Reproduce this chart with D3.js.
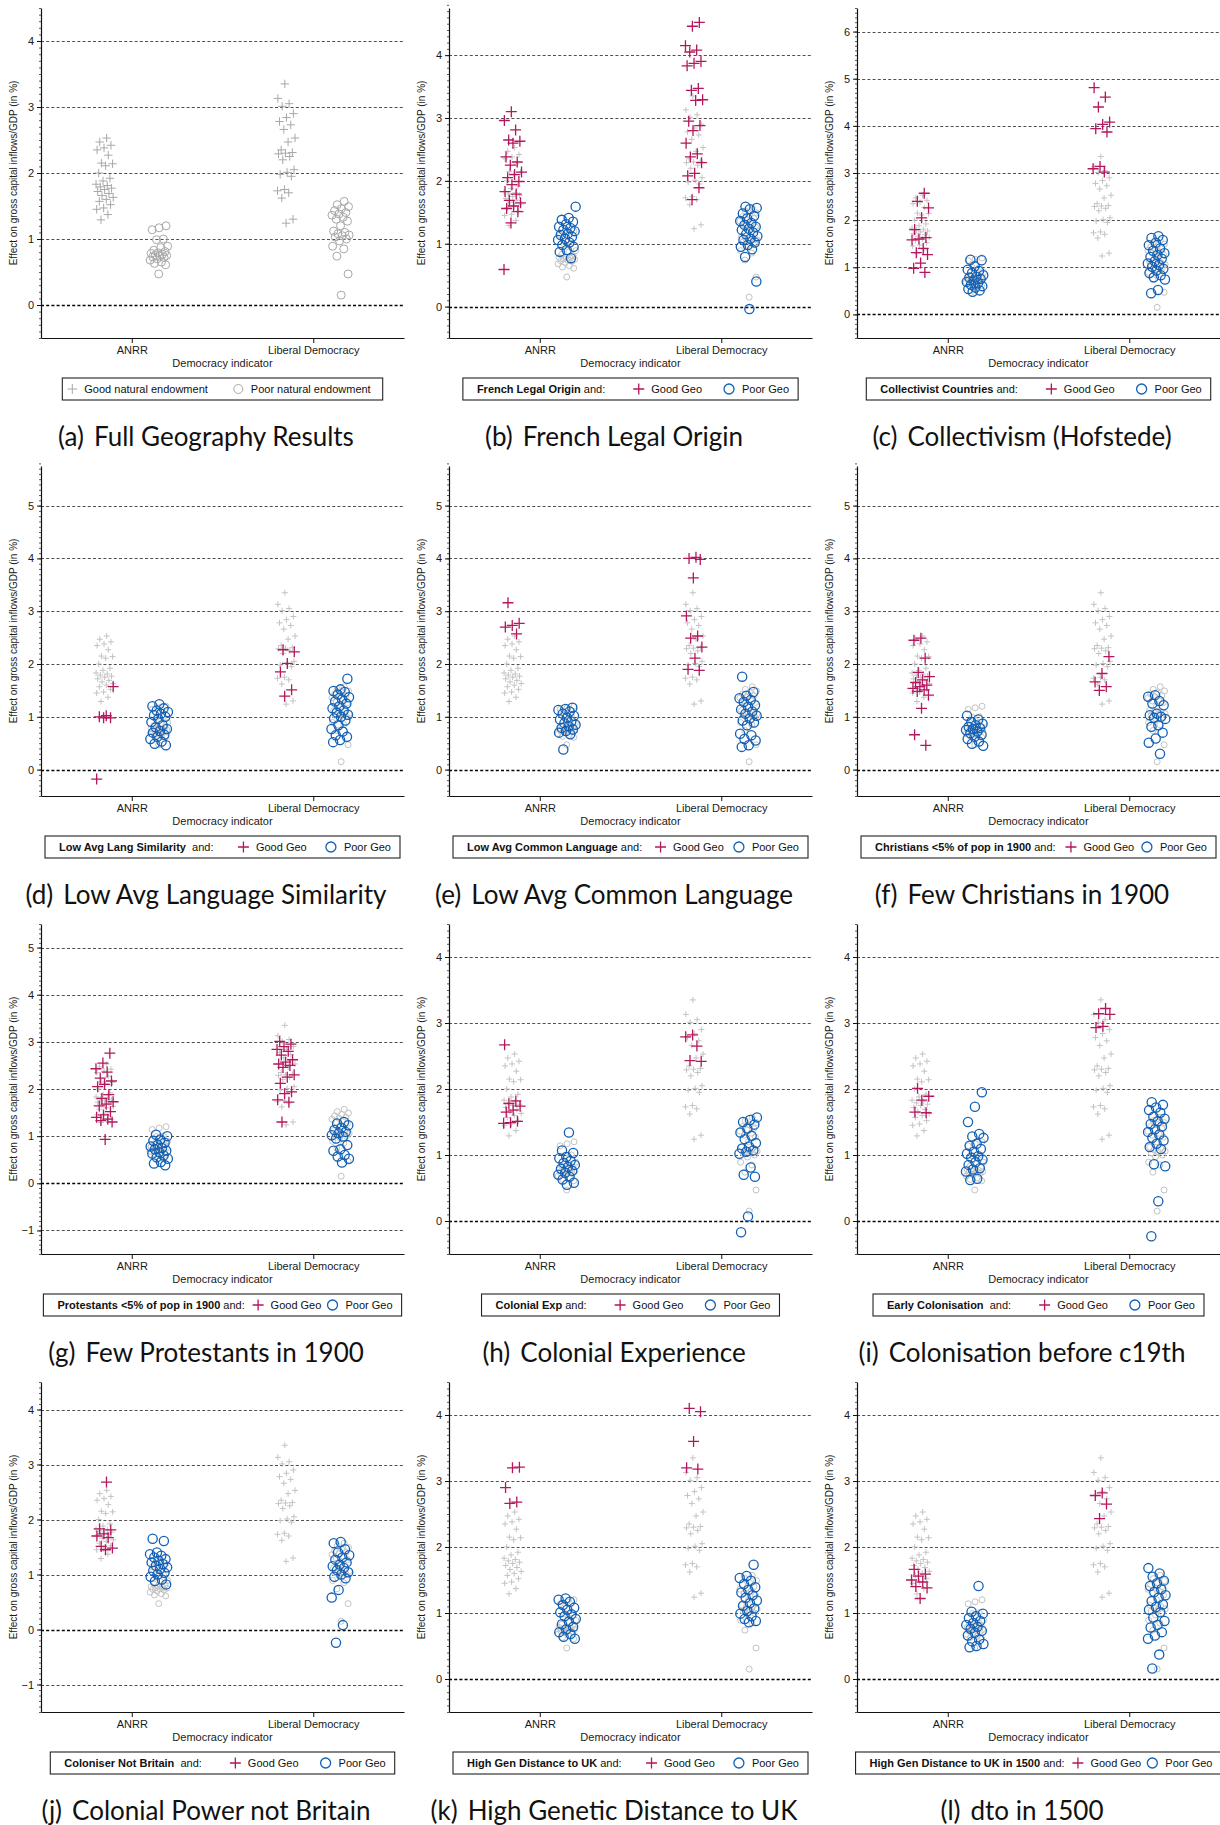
<!DOCTYPE html>
<html>
<head>
<meta charset="utf-8">
<script src="https://cdn.jsdelivr.net/npm/d3@7"></script>
<style>
  body { margin: 0; background: #fff; }
  svg text { font-family: "Liberation Sans", Arial, Helvetica, sans-serif; }
  .cap { font-family: Lato, "Noto Sans", sans-serif; }
</style>
</head>
<body>
<svg id="fig" width="1220" height="1825"></svg>
<script>
// ---- categories on the x axis ----
const categories = ["ANRR", "Liberal Democracy"];

// ---- full-sample estimates: [ANRR, Liberal Democracy] ----
const fullGood = [
  [2.53, 2.47, 2.42, 2.38, 2.35, 2.27, 2.15, 2.14, 2.11, 2.00, 1.92, 1.88, 1.83, 1.81, 1.79, 1.77, 1.75, 1.72, 1.69, 1.66, 1.63, 1.60, 1.57, 1.52, 1.47, 1.45, 1.37, 1.29],
  [3.35, 3.13, 3.05, 3.01, 2.90, 2.84, 2.78, 2.73, 2.66, 2.53, 2.47, 2.35, 2.31, 2.30, 2.29, 2.25, 2.20, 2.05, 2.01, 1.98, 1.95, 1.75, 1.73, 1.70, 1.62, 1.30, 1.24]
];
const fullPoor = [
  [1.20, 1.17, 1.14, 1.00, 0.99, 0.89, 0.87, 0.83, 0.81, 0.79, 0.78, 0.77, 0.76, 0.75, 0.74, 0.73, 0.72, 0.70, 0.68, 0.65, 0.63, 0.61, 0.47],
  [1.57, 1.52, 1.49, 1.46, 1.43, 1.40, 1.38, 1.36, 1.33, 1.30, 1.27, 1.20, 1.12, 1.10, 1.08, 1.06, 1.05, 1.03, 1.00, 0.97, 0.89, 0.85, 0.74, 0.47, 0.15]
];

// ---- subsample estimates: [ANRR, Liberal Democracy] ----
const frenchGood = [
  [3.10, 2.96, 2.81, 2.65, 2.63, 2.60, 2.38, 2.30, 2.25, 2.14, 2.10, 2.05, 1.99, 1.94, 1.83, 1.79, 1.69, 1.65, 1.60, 1.56, 1.51, 1.33, 0.59],
  [4.52, 4.46, 4.15, 4.08, 4.05, 3.90, 3.87, 3.83, 3.47, 3.44, 3.29, 3.28, 2.95, 2.88, 2.80, 2.60, 2.43, 2.38, 2.29, 2.12, 2.08, 1.89, 1.70]
];
const frenchPoor = [
  [1.59, 1.41, 1.38, 1.35, 1.31, 1.27, 1.25, 1.22, 1.20, 1.16, 1.14, 1.11, 1.08, 1.06, 1.02, 0.98, 0.95, 0.90, 0.87, 0.77],
  [1.59, 1.57, 1.55, 1.48, 1.44, 1.40, 1.36, 1.33, 1.30, 1.27, 1.24, 1.22, 1.18, 1.15, 1.12, 1.08, 1.06, 1.02, 0.98, 0.95, 0.91, 0.79, 0.40, -0.04]
];
const collectGood = [
  [2.57, 2.40, 2.26, 2.05, 1.80, 1.63, 1.60, 1.58, 1.40, 1.31, 1.27, 1.09, 0.98, 0.89],
  [4.81, 4.61, 4.40, 4.08, 4.03, 3.94, 3.87, 3.14, 3.09, 3.02]
];
const collectPoor = [
  [1.16, 1.15, 1.02, 0.95, 0.92, 0.88, 0.83, 0.80, 0.78, 0.75, 0.72, 0.69, 0.66, 0.63, 0.60, 0.57, 0.54, 0.51, 0.48],
  [1.66, 1.62, 1.58, 1.52, 1.47, 1.40, 1.35, 1.30, 1.26, 1.22, 1.18, 1.13, 1.08, 1.05, 1.01, 0.97, 0.93, 0.88, 0.83, 0.79, 0.74, 0.52, 0.45]
];
const langSimGood = [
  [1.57, 1.02, 1.00, 0.98, 0.98, -0.18],
  [2.27, 2.23, 2.01, 1.85, 1.51, 1.39]
];
const langSimPoor = [
  [1.24, 1.20, 1.16, 1.12, 1.09, 1.06, 1.03, 1.00, 0.96, 0.90, 0.84, 0.80, 0.77, 0.73, 0.70, 0.66, 0.62, 0.58, 0.53, 0.49, 0.46],
  [1.72, 1.52, 1.49, 1.47, 1.42, 1.37, 1.33, 1.29, 1.25, 1.20, 1.16, 1.12, 1.08, 1.04, 1.00, 0.97, 0.93, 0.84, 0.77, 0.72, 0.65, 0.62, 0.56, 0.52]
];
const commonLangGood = [
  [3.16, 2.77, 2.73, 2.70, 2.57],
  [4.02, 4.00, 3.98, 3.63, 2.91, 2.53, 2.49, 2.32, 2.11, 1.90, 1.88]
];
const commonLangPoor = [
  [1.17, 1.15, 1.13, 1.10, 1.06, 1.02, 0.98, 0.95, 0.91, 0.88, 0.85, 0.82, 0.79, 0.76, 0.73, 0.70, 0.67, 0.38],
  [1.76, 1.47, 1.40, 1.35, 1.32, 1.28, 1.22, 1.19, 1.14, 1.10, 1.06, 1.02, 0.97, 0.93, 0.89, 0.84, 0.68, 0.65, 0.58, 0.55, 0.46, 0.43]
];
const christGood = [
  [2.49, 2.45, 2.11, 1.84, 1.76, 1.70, 1.65, 1.60, 1.57, 1.54, 1.51, 1.48, 1.41, 1.16, 0.66, 0.46],
  [2.14, 1.82, 1.66, 1.57, 1.50]
];
const christPoor = [
  [1.02, 0.95, 0.90, 0.87, 0.84, 0.81, 0.79, 0.77, 0.75, 0.72, 0.69, 0.66, 0.62, 0.58, 0.53, 0.49, 0.45],
  [1.41, 1.38, 1.30, 1.25, 1.22, 1.06, 1.03, 1.00, 0.98, 0.96, 0.84, 0.81, 0.70, 0.59, 0.51, 0.30]
];
const protGood = [
  [2.76, 2.55, 2.43, 2.36, 2.23, 2.17, 2.10, 2.05, 1.88, 1.80, 1.73, 1.68, 1.64, 1.52, 1.45, 1.40, 1.36, 1.33, 1.30, 0.93],
  [3.01, 2.95, 2.90, 2.84, 2.80, 2.72, 2.62, 2.57, 2.53, 2.50, 2.46, 2.30, 2.25, 2.12, 1.94, 1.90, 1.77, 1.72, 1.30]
];
const protPoor = [
  [1.03, 1.00, 0.93, 0.90, 0.86, 0.82, 0.78, 0.75, 0.72, 0.69, 0.66, 0.63, 0.59, 0.55, 0.52, 0.45, 0.42, 0.38],
  [1.30, 1.27, 1.23, 1.18, 1.13, 1.09, 1.06, 1.02, 0.99, 0.95, 0.81, 0.72, 0.69, 0.60, 0.57, 0.52, 0.44]
];
const colExpGood = [
  [2.67, 1.82, 1.78, 1.74, 1.68, 1.65, 1.51, 1.49, 1.48],
  [2.82, 2.79, 2.65, 2.43, 2.42]
];
const colExpPoor = [
  [1.34, 1.07, 1.03, 0.97, 0.95, 0.91, 0.88, 0.85, 0.82, 0.79, 0.76, 0.73, 0.70, 0.67, 0.63, 0.58, 0.55],
  [1.57, 1.53, 1.50, 1.46, 1.40, 1.34, 1.29, 1.24, 1.18, 1.13, 1.10, 1.07, 1.05, 1.02, 0.81, 0.70, 0.67, 0.07, -0.17]
];
const earlyColGood = [
  [2.01, 1.89, 1.83, 1.65, 1.64],
  [3.22, 3.14, 3.13, 2.95, 2.93]
];
const earlyColPoor = [
  [1.95, 1.73, 1.50, 1.32, 1.28, 1.26, 1.17, 1.14, 1.09, 1.05, 1.02, 0.98, 0.96, 0.93, 0.89, 0.85, 0.80, 0.78, 0.75, 0.64, 0.62],
  [1.80, 1.76, 1.72, 1.68, 1.64, 1.58, 1.55, 1.51, 1.47, 1.43, 1.39, 1.35, 1.31, 1.26, 1.22, 1.17, 1.12, 1.09, 0.86, 0.83, 0.30, -0.23]
];
const notBritainGood = [
  [2.68, 1.83, 1.81, 1.74, 1.70, 1.67, 1.51, 1.48, 1.45],
  []
];
const notBritainPoor = [
  [1.65, 1.61, 1.40, 1.37, 1.34, 1.31, 1.28, 1.25, 1.22, 1.19, 1.16, 1.13, 1.10, 1.07, 1.03, 1.00, 0.96, 0.91, 0.88, 0.82],
  [1.59, 1.57, 1.46, 1.40, 1.35, 1.31, 1.27, 1.22, 1.18, 1.15, 1.12, 1.08, 1.04, 1.00, 0.96, 0.93, 0.72, 0.58, 0.08, -0.24]
];
const genDistGood = [
  [3.21, 3.20, 2.90, 2.68, 2.66],
  [4.10, 4.05, 3.60, 3.20, 3.18]
];
const genDistPoor = [
  [1.22, 1.20, 1.17, 1.12, 1.08, 1.05, 1.01, 0.98, 0.95, 0.91, 0.87, 0.83, 0.79, 0.75, 0.71, 0.68, 0.64, 0.61],
  [1.73, 1.56, 1.53, 1.49, 1.44, 1.39, 1.35, 1.31, 1.27, 1.23, 1.19, 1.15, 1.11, 1.07, 1.03, 0.99, 0.95, 0.91, 0.88, 0.86]
];
const genDist1500Good = [
  [1.66, 1.59, 1.56, 1.50, 1.47, 1.40, 1.38, 1.22],
  [2.82, 2.78, 2.65, 2.43]
];
const genDist1500Poor = [
  [1.41, 1.02, 0.99, 0.95, 0.92, 0.88, 0.85, 0.82, 0.79, 0.76, 0.73, 0.70, 0.66, 0.60, 0.57, 0.53, 0.50, 0.48],
  [1.68, 1.60, 1.55, 1.49, 1.45, 1.41, 1.36, 1.32, 1.27, 1.23, 1.18, 1.13, 1.09, 1.05, 1.01, 0.93, 0.88, 0.82, 0.78, 0.71, 0.66, 0.61, 0.37, 0.16]
];

const subsetGood = [null, frenchGood, collectGood, langSimGood, commonLangGood, christGood, protGood, colExpGood, earlyColGood, notBritainGood, genDistGood, genDist1500Good];
const subsetPoor = [null, frenchPoor, collectPoor, langSimPoor, commonLangPoor, christPoor, protPoor, colExpPoor, earlyColPoor, notBritainPoor, genDistPoor, genDist1500Poor];

// ---- y-axis tick labels and upper limit for each panel ----
const yTickLabels = [
  [0, 1, 2, 3, 4], [0, 1, 2, 3, 4], [0, 1, 2, 3, 4, 5, 6],
  [0, 1, 2, 3, 4, 5], [0, 1, 2, 3, 4, 5], [0, 1, 2, 3, 4, 5],
  [-1, 0, 1, 2, 3, 4, 5], [0, 1, 2, 3, 4], [0, 1, 2, 3, 4],
  [-1, 0, 1, 2, 3, 4], [0, 1, 2, 3, 4], [0, 1, 2, 3, 4]
];
const yUpper = [4.5, 4.75, 6.5, 5.75, 5.75, 5.75, 5.5, 4.5, 4.5, 4.5, 4.5, 4.5];

// ---- texts ----
const captions = [
  ["(a)", "Full Geography Results"], ["(b)", "French Legal Origin"], ["(c)", "Collectivism (Hofstede)"],
  ["(d)", "Low Avg Language Similarity"], ["(e)", "Low Avg Common Language"], ["(f)", "Few Christians in 1900"],
  ["(g)", "Few Protestants in 1900"], ["(h)", "Colonial Experience"], ["(i)", "Colonisation before c19th"],
  ["(j)", "Colonial Power not Britain"], ["(k)", "High Genetic Distance to UK"], ["(l)", "dto in 1500"]
];
const legendTitles = [null, "French Legal Origin", "Collectivist Countries", "Low Avg Lang Similarity",
  "Low Avg Common Language", "Christians <5% of pop in 1900", "Protestants <5% of pop in 1900",
  "Colonial Exp", "Early Colonisation", "Coloniser Not Britain", "High Gen Distance to UK",
  "High Gen Distance to UK in 1500"];
const legendJoins = [null, " and:", " and:", "  and:", " and:", " and:", " and:", " and:", "  and:", "  and:", " and:", " and:"];
const fullLegend = ["Good natural endowment", "Poor natural endowment"];
const subLegend = ["Good Geo", "Poor Geo"];
const yTitle = "Effect on gross capital inflows/GDP (in %)";
const xTitle = "Democracy indicator";

// ---- styling ----
const MAGENTA = "#b3175c";
const BLUE = "#1260b4";
const GREY_BG = "#c3c3c3";
const GREY_A = "#a8a8a8";
const colX = [0, 408, 816];
const rowY = [8, 466, 924, 1382];
const plotH = 330;
const groupOffset = 0.15;

const svg = d3.select("#fig");

const crossPath = s => `M${-s},0H${s}M0,${-s}V${s}`;
// deterministic horizontal spread of the markers around their category
const spread = (i, seed) => ((((i + 1) * 0.6180339887 + seed * 0.2718) % 1) - 0.5) * 0.1;

function drawCrosses(g, x, y, vals, cat, seed, size, color, width) {
  g.append("g").selectAll("path").data(vals).join("path")
    .attr("d", crossPath(size))
    .attr("transform", (d, i) => `translate(${x(cat + 1 - groupOffset + spread(i, seed))},${y(d)})`)
    .attr("fill", "none").attr("stroke", color).attr("stroke-width", width);
}
function drawCircles(g, x, y, vals, cat, seed, r, color, width) {
  g.append("g").selectAll("circle").data(vals).join("circle")
    .attr("cx", (d, i) => x(cat + 1 + groupOffset + spread(i, seed)))
    .attr("cy", d => y(d)).attr("r", r)
    .attr("fill", "none").attr("stroke", color).attr("stroke-width", width);
}

function drawLegend(g, idx, cx, top) {
  const lg = g.append("g");
  const pieces = [];
  if (idx === 0) {
    pieces.push({ k: "cross", gap: 5, color: GREY_A, s: 5 });
    pieces.push({ k: "text", t: fullLegend[0], gap: 7 });
    pieces.push({ k: "circle", gap: 26, color: GREY_A, r: 4.5 });
    pieces.push({ k: "text", t: fullLegend[1], gap: 8, last: 12 });
  } else {
    pieces.push({ k: "label", gap: 14, flex: 0 });
    pieces.push({ k: "cross", gap: 28, color: MAGENTA, s: 5.5, flex: 1 });
    pieces.push({ k: "text", t: subLegend[0], gap: 7 });
    pieces.push({ k: "circle", gap: 22, color: BLUE, r: 5, flex: 1 });
    pieces.push({ k: "text", t: subLegend[1], gap: 8, last: 9 });
  }
  const cy = top + 11;
  // create elements and measure
  pieces.forEach(p => {
    if (p.k === "label") {
      p.el = lg.append("text").attr("font-size", 11).attr("fill", "#111").style("white-space", "pre");
      p.el.append("tspan").attr("font-weight", "bold").text(legendTitles[idx]);
      p.el.append("tspan").text(legendJoins[idx]);
      p.w = p.el.node().getComputedTextLength();
    } else if (p.k === "text") {
      p.el = lg.append("text").attr("font-size", 11).attr("fill", "#111").text(p.t);
      p.w = p.el.node().getComputedTextLength();
    } else if (p.k === "cross") {
      p.w = 2 * p.s;
    } else {
      p.w = 2 * p.r;
    }
  });
  const maxW = 355;
  let total = d3.sum(pieces, p => p.w + p.gap) + pieces[pieces.length - 1].last;
  if (total > maxW) {
    const flexSum = d3.sum(pieces, p => p.flex ? p.gap : 0);
    const cut = Math.min(total - maxW, flexSum - 14);
    pieces.forEach(p => { if (p.flex) p.gap -= cut * p.gap / flexSum; });
    total = d3.sum(pieces, p => p.w + p.gap) + pieces[pieces.length - 1].last;
  }
  const left = cx - total / 2;
  lg.insert("rect", ":first-child")
    .attr("x", left).attr("y", top).attr("width", total).attr("height", 22)
    .attr("fill", "#fff").attr("stroke", "#222").attr("stroke-width", 1.1);
  let cur = left;
  pieces.forEach(p => {
    cur += p.gap;
    if (p.k === "label" || p.k === "text") {
      p.el.attr("x", cur).attr("y", cy + 4);
    } else if (p.k === "cross") {
      lg.append("path").attr("d", crossPath(p.s)).attr("transform", `translate(${cur + p.s},${cy})`)
        .attr("fill", "none").attr("stroke", p.color).attr("stroke-width", idx === 0 ? 1 : 1.3);
    } else {
      lg.append("circle").attr("cx", cur + p.r).attr("cy", cy).attr("r", p.r)
        .attr("fill", "none").attr("stroke", p.color).attr("stroke-width", idx === 0 ? 1 : 1.3);
    }
    cur += p.w;
  });
}

function drawPanel(idx) {
  const c = idx % 3, r = Math.floor(idx / 3);
  const x0 = colX[c], top = rowY[r], bottom = top + plotH;
  const ticks = yTickLabels[idx];
  const x = d3.scaleLinear().domain([0.5, 2.5]).range([x0 + 41, x0 + 404]);
  const y = d3.scaleLinear().domain([ticks[0] - 0.5, yUpper[idx]]).range([bottom, top]);
  const g = svg.append("g");
  const [xl, xr] = x.range();

  // dashed reference lines at each labelled value
  g.append("g").selectAll("line").data(ticks).join("line")
    .attr("x1", xl).attr("x2", xr)
    .attr("y1", d => Math.round(y(d)) + 0.5).attr("y2", d => Math.round(y(d)) + 0.5)
    .attr("stroke", d => d === 0 ? "#000" : "#3c3c3c")
    .attr("stroke-width", d => d === 0 ? 1.5 : 0.9)
    .attr("stroke-dasharray", "3,2.2");

  // minor ticks every 0.1
  const lo = Math.round(y.domain()[0] * 10), hi = Math.round(y.domain()[1] * 10);
  const minor = d3.range(lo, hi + 1).map(v => v / 10);
  const minorAxis = g.append("g").attr("transform", `translate(${xl},0)`)
    .call(d3.axisLeft(y).tickValues(minor).tickSize(2).tickSizeOuter(0).tickFormat(""));
  minorAxis.select(".domain").remove();
  minorAxis.selectAll("line").attr("stroke", "#333").attr("stroke-width", 0.8);

  // y axis
  const yAxis = g.append("g").attr("transform", `translate(${xl},0)`)
    .call(d3.axisLeft(y).tickValues(ticks).tickSize(4).tickSizeOuter(0).tickPadding(3)
      .tickFormat(d => d < 0 ? "\u2212" + Math.abs(d) : String(d)));
  yAxis.select(".domain").attr("stroke", "#111").attr("stroke-width", 1.2);
  yAxis.selectAll("text").attr("font-size", 11).attr("fill", "#1a1a1a")
    .attr("font-family", "'Liberation Sans', Arial, sans-serif");
  yAxis.selectAll(".tick line").attr("stroke", "#111");

  // x axis
  const xAxis = g.append("g").attr("transform", `translate(0,${bottom})`)
    .call(d3.axisBottom(x).tickValues([1, 2]).tickSize(5).tickSizeOuter(0).tickPadding(3)
      .tickFormat(d => categories[d - 1]));
  xAxis.select(".domain").attr("stroke", "#111").attr("stroke-width", 1.2);
  xAxis.selectAll("text").attr("font-size", 11).attr("fill", "#1a1a1a")
    .attr("font-family", "'Liberation Sans', Arial, sans-serif");
  xAxis.selectAll(".tick line").attr("stroke", "#111");

  // axis titles
  g.append("text").attr("x", (xl + xr) / 2).attr("y", bottom + 29)
    .attr("text-anchor", "middle").attr("font-size", 11).attr("fill", "#1a1a1a").text(xTitle);
  g.append("text")
    .attr("transform", `translate(${x0 + 17},${(top + bottom) / 2}) rotate(-90)`)
    .attr("text-anchor", "middle").attr("font-size", 10).attr("fill", "#1a1a1a").text(yTitle);

  // markers
  const pts = g.append("g");
  if (idx === 0) {
    fullGood.forEach((vals, cat) => drawCrosses(pts, x, y, vals, cat, cat * 3, 4.2, GREY_A, 1));
    fullPoor.forEach((vals, cat) => drawCircles(pts, x, y, vals, cat, cat * 3 + 1, 4, GREY_A, 1));
  } else {
    fullGood.forEach((vals, cat) => drawCrosses(pts, x, y, vals, cat, cat * 3, 3, GREY_BG, 1));
    fullPoor.forEach((vals, cat) => drawCircles(pts, x, y, vals, cat, cat * 3 + 1, 3, GREY_BG, 1));
    subsetGood[idx].forEach((vals, cat) => drawCrosses(pts, x, y, vals, cat, idx + cat * 5 + 2, 5.5, MAGENTA, 1.3));
    subsetPoor[idx].forEach((vals, cat) => drawCircles(pts, x, y, vals, cat, idx + cat * 5 + 4, 4.6, BLUE, 1.3));
  }

  drawLegend(g, idx, (xl + xr) / 2, bottom + 40);

  // caption
  const cap = g.append("text").attr("class", "cap")
    .attr("x", x0 + 206).attr("y", top + 438)
    .attr("text-anchor", "middle").attr("font-size", 26).attr("fill", "#111");
  cap.append("tspan").text(captions[idx][0]);
  cap.append("tspan").attr("dx", 10).text(captions[idx][1]);
}

d3.range(12).forEach(drawPanel);
</script>
</body>
</html>
